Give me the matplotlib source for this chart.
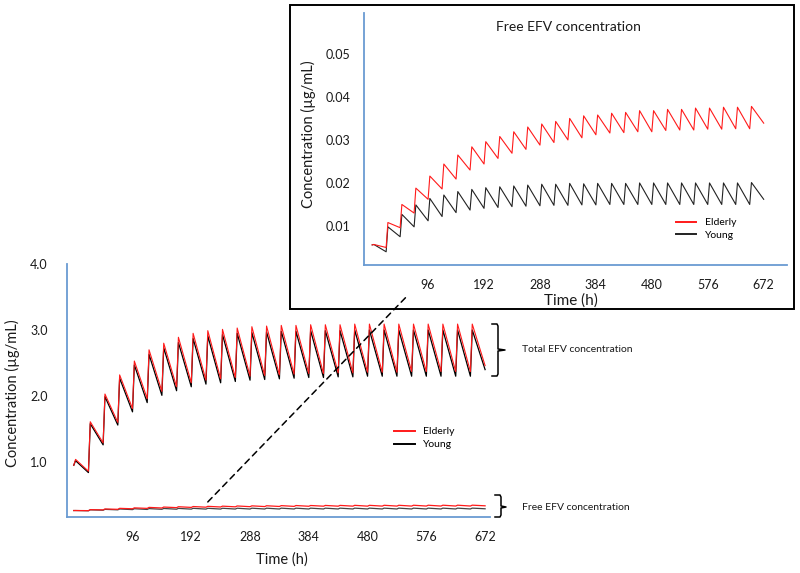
import numpy as np
import matplotlib
matplotlib.use("Agg")
import matplotlib.pyplot as plt
from matplotlib.lines import Line2D
from matplotlib.patches import Rectangle, ConnectionPatch

plt.rcParams['font.family'] = ['Lato', 'DejaVu Sans']

# dosing schedule (h), once daily for 28 days
dose_h = [0, 24, 48, 72, 96, 120, 144, 168, 192, 216, 240, 264, 288, 312,
          336, 360, 384, 408, 432, 456, 480, 504, 528, 552, 576, 600, 624, 648]
end_h = 672
xticks = [96, 192, 288, 384, 480, 576, 672]

# total EFV (ug/mL): peak after each dose, trough just before each next dose
tot_eld_start, tot_eld_end = 0.95, 2.46
tot_eld_peak = [1.04, 1.61, 2.03, 2.32, 2.53, 2.70, 2.80, 2.89, 2.95, 2.99, 3.01, 3.03, 3.05, 3.06,
                3.07, 3.07, 3.08, 3.08, 3.08, 3.09, 3.09, 3.09, 3.09, 3.09, 3.09, 3.09, 3.09, 3.09]
tot_eld_trough = [0.86, 1.29, 1.60, 1.81, 1.96, 2.07, 2.14, 2.20, 2.24, 2.26, 2.28, 2.30, 2.31, 2.32,
                  2.33, 2.34, 2.34, 2.35, 2.35, 2.36, 2.36, 2.36, 2.37, 2.37, 2.37, 2.37, 2.37]
tot_yng_start, tot_yng_end = 0.95, 2.40
tot_yng_peak = [1.02, 1.58, 1.99, 2.27, 2.47, 2.63, 2.73, 2.81, 2.87, 2.91, 2.93, 2.95, 2.96, 2.97,
                2.98, 2.98, 2.99, 2.99, 2.99, 3.00, 3.00, 3.00, 3.00, 3.00, 3.00, 3.00, 3.00, 3.00]
tot_yng_trough = [0.84, 1.26, 1.56, 1.76, 1.90, 2.01, 2.08, 2.14, 2.18, 2.20, 2.22, 2.24, 2.25, 2.26,
                  2.27, 2.28, 2.28, 2.29, 2.29, 2.30, 2.30, 2.30, 2.30, 2.30, 2.30, 2.30, 2.30]

# free EFV (ug/mL)
free_eld_start, free_eld_end = 0.0056, 0.0339
free_eld_peak = [0.0057, 0.0108, 0.0150, 0.0188, 0.0216, 0.0244, 0.0265, 0.0284, 0.0296, 0.0308,
                 0.0319, 0.0330, 0.0337, 0.0343, 0.0350, 0.0356, 0.0358, 0.0362, 0.0364, 0.0368,
                 0.0368, 0.0371, 0.0371, 0.0374, 0.0374, 0.0376, 0.0376, 0.0378]
free_eld_trough = [0.0050, 0.0096, 0.0130, 0.0162, 0.0186, 0.0209, 0.0230, 0.0244, 0.0257, 0.0269,
                   0.0278, 0.0288, 0.0294, 0.0300, 0.0305, 0.0312, 0.0316, 0.0317, 0.0319, 0.0319,
                   0.0322, 0.0323, 0.0323, 0.0325, 0.0325, 0.0326, 0.0326]
free_yng_start, free_yng_end = 0.0056, 0.0162
free_yng_peak = [0.0057, 0.0098, 0.0127, 0.0149, 0.0164, 0.0172, 0.0180, 0.0185, 0.0189, 0.0191,
                 0.0193, 0.0195, 0.0197, 0.0197, 0.0199, 0.0198, 0.0199, 0.0199, 0.0199, 0.0200,
                 0.0200, 0.0200, 0.0200, 0.0200, 0.0200, 0.0200, 0.0200, 0.0201]
free_yng_trough = [0.0040, 0.0075, 0.0098, 0.0112, 0.0122, 0.0131, 0.0137, 0.0141, 0.0143, 0.0145,
                   0.0146, 0.0147, 0.0148, 0.0148, 0.0149, 0.0149, 0.0150, 0.0150, 0.0150, 0.0150,
                   0.0150, 0.0150, 0.0150, 0.0150, 0.0150, 0.0150, 0.0150]

W, H = 800, 573
SPINE = '#6A9BD2'
TXT = '#1a1a1a'
RED = '#FF1A1A'


def fx(x):
    return x / W


def fy(y):
    return 1 - y / H


def profile(start, peaks, troughs, end, lag=3):
    t, c = [0], [start]
    for k, d in enumerate(dose_h):
        if k > 0:
            t.append(d)
            c.append(troughs[k - 1])
        t.append(d + lag)
        c.append(peaks[k])
    t.append(end_h)
    c.append(end)
    return t, c


def style(ax, fs, pad_x, pad_y):
    for s in ['top', 'right']:
        ax.spines[s].set_visible(False)
    for s in ['left', 'bottom']:
        ax.spines[s].set_color(SPINE)
        ax.spines[s].set_linewidth(1.3)
    ax.tick_params(length=0, labelsize=fs, colors=TXT)
    ax.tick_params(axis='x', pad=pad_x)
    ax.tick_params(axis='y', pad=pad_y)


fig = plt.figure(figsize=(8, 5.73), dpi=100)

# ---- main chart
ax = fig.add_axes([fx(67), fy(517), fx(490 - 67), (517 - 264) / H])
style(ax, 9, 10, 14)
t, c = profile(tot_yng_start, tot_yng_peak, tot_yng_trough, tot_yng_end)
ax.plot(t, c, color='black', lw=0.9, label='Young')
t, c = profile(tot_eld_start, tot_eld_peak, tot_eld_trough, tot_eld_end)
ax.plot(t, c, color=RED, lw=0.8, label='Elderly')
ax.set_xlim(-11, 680)
ax.set_ylim(0.167, 4.0)
ax.set_xticks(xticks)
ax.set_yticks([1.0, 2.0, 3.0, 4.0])
ax.set_yticklabels(['1.0', '2.0', '3.0', '4.0'])

# free concentration drawn on its own hidden scale near the baseline
ax2 = ax.twinx()
ax2.set_ylim(-0.033, 1.48)
ax2.axis('off')
t, c = profile(free_yng_start, free_yng_peak, free_yng_trough, free_yng_end)
ax2.plot(t, c, color='#444444', lw=0.9)
t, c = profile(free_eld_start, free_eld_peak, free_eld_trough, free_eld_end)
ax2.plot(t, c, color=RED, lw=0.9)

h, l = ax.get_legend_handles_labels()
leg = ax.legend(h[::-1], l[::-1], loc='upper left', bbox_to_anchor=(fx(394), fy(427)),
                bbox_transform=fig.transFigure, frameon=False, fontsize=7.5, handlelength=2.0,
                handletextpad=0.8, labelspacing=0.35, borderpad=0, borderaxespad=0)
for ln in leg.get_lines():
    ln.set_linewidth(1.4)

fig.text(fx(282), fy(560), 'Time (h)', ha='center', va='center', fontsize=10.5, color=TXT)
fig.text(fx(12), fy(393), 'Concentration (µg/mL)', ha='center', va='center',
         rotation=90, fontsize=10.5, color=TXT)

# ---- inset box and inset chart
box = Rectangle((fx(290), fy(309)), fx(794 - 290), (309 - 5) / H, transform=fig.transFigure,
                facecolor='white', edgecolor='black', lw=1.4, zorder=1.5)
fig.patches.append(box)

axi = fig.add_axes([fx(364), fy(265), fx(787 - 364), (265 - 13) / H])
axi.set_zorder(2)
style(axi, 9, 10, 10)
t, c = profile(free_yng_start, free_yng_peak, free_yng_trough, free_yng_end)
axi.plot(t, c, color='#222222', lw=0.8, label='Young')
t, c = profile(free_eld_start, free_eld_peak, free_eld_trough, free_eld_end)
axi.plot(t, c, color=RED, lw=0.8, label='Elderly')
axi.set_xlim(-14, 712)
axi.set_ylim(0.00093, 0.0595)
axi.set_xticks(xticks)
axi.set_yticks([0.01, 0.02, 0.03, 0.04, 0.05])
axi.set_yticklabels(['0.01', '0.02', '0.03', '0.04', '0.05'])
h, l = axi.get_legend_handles_labels()
leg = axi.legend(h[::-1], l[::-1], loc='upper left', bbox_to_anchor=(fx(676), fy(218)),
                 bbox_transform=fig.transFigure, frameon=False, fontsize=7.5, handlelength=1.9,
                 handletextpad=0.9, labelspacing=0.3, borderpad=0, borderaxespad=0)
for ln in leg.get_lines():
    ln.set_linewidth(1.4)

fig.text(fx(571), fy(301), 'Time (h)', ha='center', va='center', fontsize=11, color=TXT)
fig.text(fx(308), fy(134), 'Concentration (µg/mL)', ha='center', va='center',
         rotation=90, fontsize=10.5, color=TXT)
fig.text(fx(568), fy(27), 'Free EFV concentration', ha='center', va='center',
         fontsize=10, color=TXT)

# dashed zoom connector
con = ConnectionPatch(xyA=(219, 0.057), coordsA=ax2.transData,
                      xyB=(62, -0.006), coordsB=axi.transData,
                      linestyle=(0, (4, 3)), lw=1.1, color='black', zorder=5)
fig.add_artist(con)

# braces
def brace(x, top, bot, mid, nub):
    xs = [fx(x - 6), fx(x - 1), fx(x), fx(x), fx(nub), fx(x), fx(x), fx(x - 1), fx(x - 6)]
    ys = [fy(top), fy(top), fy(top + 2), fy(mid - 1), fy(mid), fy(mid + 1), fy(bot - 2), fy(bot), fy(bot)]
    fig.add_artist(Line2D(xs, ys, color='black', lw=1.1, transform=fig.transFigure))


brace(498, 324, 376, 350, 505)
brace(501, 495, 517, 507, 506)
fig.text(fx(522), fy(350), 'Total EFV concentration', ha='left', va='center', fontsize=7.5, color=TXT)
fig.text(fx(522), fy(507), 'Free EFV concentration', ha='left', va='center', fontsize=7.5, color=TXT)

fig.savefig('out.png', dpi=100)
